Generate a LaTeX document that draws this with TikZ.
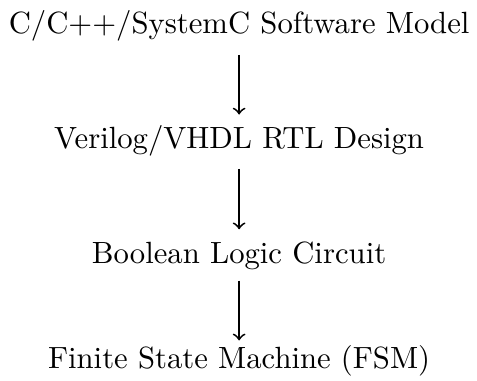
\documentclass[tikz,border=0pt]{standalone}
\begin{document}
\begin{tikzpicture}[x=1pt,y=1pt,
  stage/.style={anchor=base,inner sep=0pt,text height=7pt,text depth=2pt},
  flow/.style={->,line width=0.6pt}]
\useasboundingbox (0,0) rectangle (155.4,-124.1);
\node[stage] (a) at (77.9,-10.85) {C/C++/SystemC Software Model};
\node[stage] (b) at (77.9,-48.4) {Verilog/VHDL RTL Design};
\node[stage] (c) at (77.9,-85.8) {Boolean Logic Circuit};
\node[stage] (d) at (77.9,-120.0) {Finite State Machine (FSM)};
\draw[flow,shorten <=4.8pt,shorten >=3.9pt] (a) -- (b);
\draw[flow,shorten <=4.4pt,shorten >=3.9pt] (b) -- (c);
\draw[flow,shorten <=3.4pt,shorten >=1.9pt] (c) -- (d);
\end{tikzpicture}
\end{document}
